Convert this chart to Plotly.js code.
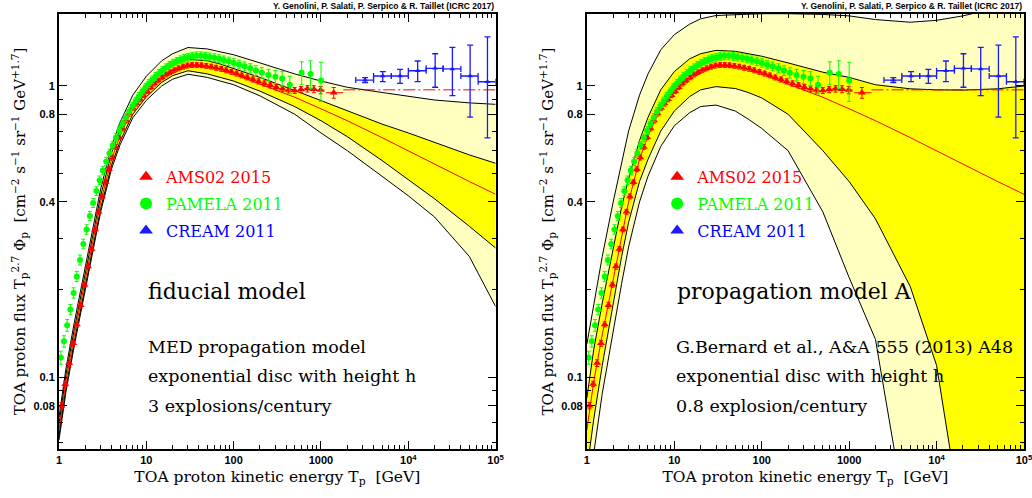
<!DOCTYPE html>
<html><head><meta charset="utf-8">
<script src="https://cdn.plot.ly/plotly-3.0.1.min.js"></script>
<style>html,body{margin:0;padding:0;background:#fff}</style>
</head><body><div id="chart" style="width:1032px;height:498px"></div>
<script>
// ---------- model curves (T^2.7 x flux, cm^-2 s^-1 sr^-1 GeV^1.7) ----------
const E_model = [1, 1.2, 1.5, 2, 2.5, 3, 4, 5, 7, 10, 15, 20, 30, 50, 70, 100, 200, 500, 1000, 2000, 5000, 10000, 20000, 50000, 100000];
const central = [0.066, 0.097, 0.14, 0.215, 0.305, 0.40, 0.56, 0.675, 0.835, 0.96, 1.075, 1.135, 1.18, 1.17, 1.145, 1.105, 1.015, 0.915, 0.835, 0.76, 0.665, 0.598, 0.54, 0.47, 0.425];
// fiducial model
const fid_outer_hi = [0.073, 0.107, 0.155, 0.238, 0.338, 0.443, 0.622, 0.75, 0.93, 1.08, 1.22, 1.29, 1.355, 1.34, 1.31, 1.28, 1.20, 1.10, 1.04, 0.99, 0.95, 0.92, 0.895, 0.875, 0.865];
const fid_inner_hi = [0.069, 0.102, 0.147, 0.226, 0.321, 0.42, 0.59, 0.71, 0.875, 1.01, 1.14, 1.20, 1.235, 1.22, 1.19, 1.15, 1.07, 0.965, 0.89, 0.82, 0.74, 0.69, 0.64, 0.58, 0.543];
const fid_inner_lo = [0.063, 0.092, 0.133, 0.205, 0.29, 0.38, 0.535, 0.645, 0.80, 0.918, 1.028, 1.085, 1.128, 1.10, 1.07, 1.04, 0.96, 0.85, 0.76, 0.67, 0.555, 0.476, 0.41, 0.33, 0.278];
const fid_outer_lo = [0.061, 0.089, 0.129, 0.199, 0.282, 0.37, 0.52, 0.628, 0.778, 0.893, 1.0, 1.055, 1.097, 1.07, 1.04, 1.01, 0.925, 0.80, 0.69, 0.60, 0.49, 0.42, 0.355, 0.26, 0.175];
// propagation model A
const A_outer_hi = [0.13, 0.18, 0.26, 0.40, 0.55, 0.70, 0.93, 1.10, 1.33, 1.50, 1.63, 1.70, 1.745, 1.76, 1.77, 1.77, 1.77, 1.76, 1.74, 1.69, 1.655, 1.68, 1.74, 1.85, 1.95];
const A_inner_hi = [0.085, 0.125, 0.18, 0.28, 0.385, 0.48, 0.65, 0.78, 0.97, 1.12, 1.24, 1.29, 1.325, 1.315, 1.29, 1.265, 1.20, 1.115, 1.07, 1.01, 0.978, 0.97, 0.968, 0.978, 1.0];
const A_inner_lo = [0.048, 0.072, 0.11, 0.178, 0.26, 0.34, 0.47, 0.56, 0.70, 0.82, 0.92, 0.97, 0.995, 0.98, 0.95, 0.91, 0.80, 0.60, 0.47, 0.35, 0.205, 0.11, 0.03, 0.01, 0.005];
const A_outer_lo = [0.035, 0.055, 0.088, 0.145, 0.21, 0.28, 0.40, 0.49, 0.62, 0.73, 0.81, 0.85, 0.86, 0.82, 0.77, 0.715, 0.60, 0.37, 0.22, 0.135, 0.03, 0.008, 0.004, 0.002, 0.001];
// constant high-energy reference (dash-dot)
const E_flat = [1800, 100000];
const v_flat = [0.97, 0.97];

// ---------- AMS02 2015 ----------
const E_ams = [1.07,1.18,1.31,1.45,1.6,1.77,1.96,2.15,2.36,2.59,
  2.84,3.11,3.41,3.73,4.08,4.47,4.89,5.36,5.87,6.43,
  7.05,7.73,8.48,9.3,10.2,11.2,12.3,13.6,15.1,16.8,
  18.7,20.9,23.4,26.3,29.6,33.4,37.8,42.8,48.6,55.3,
  63,72,82,94,108,124,143,166,193,225,
  263,308,362,425,500,590,700,830,990,1400];
const v_ams = [0.080,0.095,0.112,0.131,0.152,0.177,0.208,0.24,0.276,0.322,
  0.37,0.418,0.467,0.518,0.568,0.618,0.667,0.715,0.762,0.805,
  0.84,0.87,0.90,0.93,0.96,0.99,1.02,1.045,1.07,1.095,
  1.115,1.135,1.15,1.165,1.175,1.18,1.18,1.178,1.172,1.165,
  1.155,1.145,1.132,1.118,1.103,1.087,1.07,1.053,1.037,1.02,
  1.005,0.99,0.978,0.968,0.965,0.972,0.978,0.975,0.968,0.948];
const err_ams = [0.002,0.002,0.003,0.003,0.003,0.004,0.004,0.005,0.005,0.006,
  0.007,0.008,0.009,0.01,0.011,0.012,0.013,0.014,0.015,0.016,
  0.017,0.017,0.018,0.018,0.019,0.019,0.02,0.02,0.02,0.021,
  0.021,0.021,0.022,0.022,0.022,0.022,0.022,0.022,0.022,0.022,
  0.022,0.022,0.022,0.021,0.021,0.021,0.021,0.021,0.021,0.021,
  0.021,0.021,0.022,0.022,0.023,0.024,0.025,0.027,0.028,0.04];
const ams_bin_lo = [0,0,0,0,0,0,0,0,0,0, 0,0,0,0,0,0,0,0,0,0, 0,0,0,0,0,0,0,0,0,0, 0,0,0,0,0,0,0,0,0,0, 0,0,0,0,0,0,0,0,0,0, 0,0,0,0,0,545,640,760,880,1140];
const ams_bin_hi = [0,0,0,0,0,0,0,0,0,0, 0,0,0,0,0,0,0,0,0,0, 0,0,0,0,0,0,0,0,0,0, 0,0,0,0,0,0,0,0,0,0, 0,0,0,0,0,0,0,0,0,0, 0,0,0,0,0,640,760,900,1100,1800];

// ---------- PAMELA 2011 ----------
const E_pam = [1.05,1.14,1.24,1.35,1.47,1.6,1.74,1.9,2.07,2.26,
  2.46,2.68,2.92,3.18,3.47,3.78,4.12,4.49,4.9,5.34,
  5.82,6.35,6.92,7.55,8.23,8.98,9.8,10.7,11.7,12.8,
  14.0,15.3,16.8,18.4,20.2,22.3,24.6,27.2,30.2,33.6,
  37.5,42,47,53,60,68,77,88,100,115,
  133,155,180,210,250,300,360,440,600,760,1000];
const v_pam = [0.117,0.133,0.151,0.171,0.195,0.222,0.253,0.287,0.322,0.358,
  0.397,0.436,0.475,0.513,0.551,0.588,0.626,0.664,0.703,0.742,
  0.78,0.818,0.853,0.888,0.922,0.955,0.99,1.02,1.05,1.08,
  1.105,1.13,1.155,1.178,1.197,1.215,1.23,1.245,1.255,1.265,
  1.27,1.27,1.265,1.258,1.25,1.24,1.228,1.215,1.2,1.185,
  1.168,1.15,1.13,1.11,1.09,1.075,1.06,1.01,1.11,1.10,1.045];
const err_pam = [0.006,0.006,0.007,0.007,0.008,0.009,0.01,0.011,0.012,0.013,
  0.014,0.015,0.016,0.017,0.018,0.019,0.02,0.021,0.022,0.023,
  0.024,0.025,0.026,0.027,0.028,0.029,0.03,0.031,0.032,0.033,
  0.034,0.035,0.036,0.036,0.037,0.037,0.038,0.038,0.038,0.039,
  0.039,0.039,0.039,0.039,0.039,0.039,0.039,0.04,0.04,0.04,
  0.041,0.042,0.044,0.046,0.05,0.055,0.06,0.07,0.1,0.12,0.16];

// ---------- CREAM 2011 ----------
const E_cream = [3200, 5100, 8050, 12800, 20300, 32000, 51000, 80600];
const v_cream = [1.048, 1.082, 1.082, 1.128, 1.15, 1.144, 1.082, 1.034];
const cream_err_up = [0.02, 0.038, 0.058, 0.09, 0.14, 0.213, 0.30, 0.44];
const cream_err_dn = [0.02, 0.047, 0.061, 0.093, 0.16, 0.218, 0.30, 0.37];
const cream_bin_lo = [2500, 4000, 6400, 10000, 16000, 25000, 40000, 63000];
const cream_bin_hi = [4000, 6400, 10000, 16000, 25000, 40000, 63000, 100000];

// ---------- tick labels ----------
const xTickVals = [1, 10, 100, 1000, 10000, 100000];
const xTickText = ['1', '10', '100', '1000', '10<sup>4</sup>', '10<sup>5</sup>'];
const yTickVals = [0.08, 0.1, 0.4, 0.8, 1];
const yTickText = ['0.08', '0.1', '0.4', '0.8', '1'];
const yMinorVals = [0.06, 0.07, 0.09, 0.2, 0.3, 0.5, 0.6, 0.7, 0.9];
const xMinorVals = [];
[1, 10, 100, 1000, 10000].forEach(d => { for (let k = 2; k <= 9; k++) xMinorVals.push(k * d); });

// ---------- geometry ----------
const W = 1032, H = 498, ML = 59, MR = 8.3, MT = 14, MB = 48.7;
const PW = W - ML - MR, PH = H - MT - MB;
const px2x = px => (px - ML) / PW;
const py2y = py => (H - MB - py) / PH;

const RED = '#ff0000', GREEN = '#00ff00', BLUE = '#1a1aff';
const PALE = '#ffffbf', YEL = '#ffff00';

function band(hi, lo, color, xa, ya) {
  return {x: E_model.concat(E_model.slice().reverse()), y: hi.concat(lo.slice().reverse()),
    xaxis: xa, yaxis: ya, type: 'scatter', mode: 'lines', fill: 'toself', fillcolor: color,
    line: {width: 0}, hoverinfo: 'skip', showlegend: false};
}
function curve(v, color, xa, ya) {
  return {x: E_model, y: v, xaxis: xa, yaxis: ya, type: 'scatter', mode: 'lines',
    line: {color: color, width: 1}, hoverinfo: 'skip', showlegend: false};
}
function panel(oh, ih, il, ol, xa, ya, leg, tag) {
  const t = [];
  t.push(band(oh, ol, PALE, xa, ya));
  t.push(band(ih, il, YEL, xa, ya));
  [oh, ih, il, ol].forEach(c => t.push(curve(c, 'black', xa, ya)));
  t.push(curve(central, RED, xa, ya));
  t.push({x: E_flat, y: v_flat, xaxis: xa, yaxis: ya, type: 'scatter', mode: 'lines',
    line: {color: RED, width: 1, dash: '12px,3px,2px,3px'}, showlegend: false, hoverinfo: 'skip'});
  t.push({x: E_ams, y: v_ams, xaxis: xa, yaxis: ya, type: 'scatter', mode: 'markers',
    name: '<span style="color:#ff0000">AMS02 2015</span>', legend: leg, legendgroup: 'ams' + tag,
    marker: {symbol: 'triangle-up', size: 7, color: RED},
    error_y: {type: 'data', array: err_ams, color: RED, thickness: 1, width: 2},
    error_x: {type: 'data', array: E_ams.map((e, i) => ams_bin_hi[i] ? ams_bin_hi[i] - e : 0),
      arrayminus: E_ams.map((e, i) => ams_bin_lo[i] ? e - ams_bin_lo[i] : 0), color: RED, thickness: 1, width: 0}});
  t.push({x: E_pam, y: v_pam, xaxis: xa, yaxis: ya, type: 'scatter', mode: 'markers',
    name: '<span style="color:#00ff00">PAMELA 2011</span>', legend: leg, legendgroup: 'pam' + tag,
    marker: {symbol: 'circle', size: 6, color: GREEN},
    error_y: {type: 'data', array: err_pam, color: GREEN, thickness: 1, width: 2}});
  t.push({x: E_cream, y: v_cream, xaxis: xa, yaxis: ya, type: 'scatter', mode: 'markers',
    name: '<span style="color:#0000ff">CREAM 2011</span>', legend: leg, legendgroup: 'cre' + tag,
    marker: {symbol: 'triangle-up', size: 5, color: BLUE},
    error_y: {type: 'data', symmetric: false, array: cream_err_up, arrayminus: cream_err_dn, color: BLUE, thickness: 1.3, width: 3},
    error_x: {type: 'data', symmetric: false, array: E_cream.map((e, i) => cream_bin_hi[i] - e),
      arrayminus: E_cream.map((e, i) => e - cream_bin_lo[i]), color: BLUE, thickness: 1.3, width: 3}});
  return t;
}

const data = panel(fid_outer_hi, fid_inner_hi, fid_inner_lo, fid_outer_lo, 'x', 'y', 'legend', 'L')
  .concat(panel(A_outer_hi, A_inner_hi, A_inner_lo, A_outer_lo, 'x2', 'y2', 'legend2', 'R'));

const tickFont = {family: 'Liberation Sans, Arial, sans-serif', size: 11, color: 'black', weight: 'bold'};
const serif = 'DejaVu Serif, serif';
function xaxis(dom, anchor) {
  return {type: 'log', range: [0, 5], domain: dom, anchor: anchor, showline: true, linewidth: 2, linecolor: 'black',
    mirror: 'ticks', ticks: 'inside', ticklen: 8, tickwidth: 1, tickcolor: 'black',
    tickmode: 'array', tickvals: xTickVals, ticktext: xTickText, tickfont: tickFont, ticklabeloverflow: 'allow',
    minor: {tickmode: 'array', tickvals: xMinorVals, ticks: 'inside', ticklen: 4, tickwidth: 1, tickcolor: 'black'},
    showgrid: false, zeroline: false, automargin: false,
    title: {text: 'TOA proton kinetic energy T<sub>p</sub>\u00a0\u00a0[GeV]', font: {family: serif, size: 15.5, color: 'black'}, standoff: 6}};
}
function yaxis(anchor) {
  return {type: 'log', range: [Math.log10(0.0568), Math.log10(1.766)], domain: [0, 1], anchor: anchor,
    showline: true, linewidth: 2, linecolor: 'black', mirror: 'ticks', ticks: 'inside', ticklen: 8, tickwidth: 1, tickcolor: 'black',
    tickmode: 'array', tickvals: yTickVals, ticktext: yTickText, tickfont: tickFont,
    minor: {tickmode: 'array', tickvals: yMinorVals, ticks: 'inside', ticklen: 4, tickwidth: 1, tickcolor: 'black'},
    showgrid: false, zeroline: false, automargin: false,
    title: {text: 'TOA proton flux T<sub>p</sub><sup>2.7</sup> Φ<sub>p</sub>\u00a0\u00a0[cm<sup>−2</sup> s<sup>−1</sup> sr<sup>−1</sup> GeV<sup>+1.7</sup>]',
      font: {family: serif, size: 15, color: 'black'}, standoff: 4}};
}
function legendAt(px, py) {
  return {x: px2x(px), y: py2y(py), xanchor: 'left', yanchor: 'top', bgcolor: 'rgba(0,0,0,0)', borderwidth: 0,
    font: {family: serif, size: 16, color: 'black'}, itemsizing: 'constant', tracegroupgap: 3, traceorder: 'grouped'};
}
function txt(px, py, s, size, color, anchor) {
  return {xref: 'paper', yref: 'paper', x: px2x(px), y: py2y(py), text: s, showarrow: false,
    xanchor: anchor || 'left', yanchor: 'middle', font: {family: serif, size: size, color: color || 'black'}};
}
const authors = '<b>Y. Genolini, P. Salati, P. Serpico &amp; R. Taillet (ICRC 2017)</b>';
const authFont = {family: 'Liberation Sans, Arial, sans-serif', size: 8.5, color: 'black'};

const layout = {
  width: W, height: H, margin: {l: ML, r: MR, t: MT, b: MB}, paper_bgcolor: 'white', plot_bgcolor: 'white',
  showlegend: true, hovermode: false,
  xaxis: xaxis([0, (495.5 - ML) / PW], 'y'),
  yaxis: yaxis('x'),
  xaxis2: xaxis([(586.7 - ML) / PW, 1], 'y2'),
  yaxis2: yaxis('x2'),
  legend: legendAt(126, 160),
  legend2: legendAt(657, 160),
  annotations: [
    {xref: 'paper', yref: 'paper', x: px2x(495.5), y: py2y(6), text: authors, showarrow: false, xanchor: 'right', yanchor: 'middle', font: authFont},
    {xref: 'paper', yref: 'paper', x: px2x(1023.7), y: py2y(6), text: authors, showarrow: false, xanchor: 'right', yanchor: 'middle', font: authFont},
    txt(146, 292, 'fiducial model', 22),
    txt(146, 347, 'MED propagation model', 17.5),
    txt(146, 376, 'exponential disc with height h', 17.5),
    txt(146, 406, '3 explosions/century', 17.5),
    txt(675, 292, 'propagation model A', 22),
    txt(674, 347, 'G.Bernard et al., A&amp;A 555 (2013) A48', 17.5),
    txt(674, 376, 'exponential disc with height h', 17.5),
    txt(674, 406, '0.8 explosion/century', 17.5)
  ]
};
Plotly.newPlot('chart', data, layout, {staticPlot: true, displayModeBar: false});
</script></body></html>
